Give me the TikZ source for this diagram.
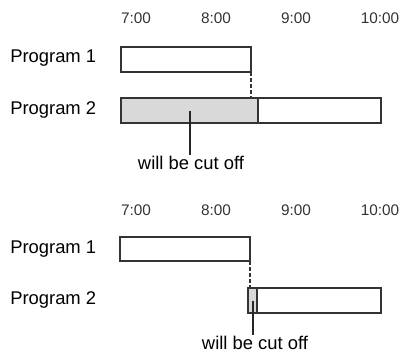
\documentclass[tikz,border=0pt]{standalone}
\usepackage{fontspec}
\setmainfont{Liberation Sans}
\usetikzlibrary{positioning}

\begin{document}
\begin{tikzpicture}[
    x=0.75pt, y=-0.75pt,
    time/.style={font=\fontsize{11.5}{13}\selectfont, text=black!80},
    prog/.style={font=\fontsize{13.8}{16}\selectfont, anchor=west, inner sep=0pt},
    bar/.style={
        rectangle, draw=black!80, line width=1.7pt, fill=white,
        outer sep=0pt, inner sep=0pt, minimum height=18.75pt
    },
    cut/.style={bar, fill=gray!30},
    note/.style={font=\fontsize{13.8}{16}\selectfont, inner sep=1pt},
    tick/.style={draw=black!80, line width=1pt, dash pattern=on 3pt off 1.5pt},
    ptr/.style={draw=black!85, line width=1.5pt},
]
\useasboundingbox (0,0) rectangle (400,354);

%% ---- UPPER CASE: program 2 starts before program 1 ends ----
\node[time] (ta7)  at (136,18) {7:00};
\node[time] (ta8)  at (216,18) {8:00};
\node[time] (ta9)  at (296,18) {9:00};
\node[time] (ta10) at (380,18) {10:00};

\node[prog] (pa1) at (10,58)  {Program 1};
\node[prog] (pa2) at (10,110) {Program 2};

\node[bar, minimum width=97.5pt, anchor=north west] (bara) at (121,47) {};
\node[cut, minimum width=102.75pt, anchor=north west] (cuta) at (121,98) {};
\node[bar, minimum width=92.25pt, right=0pt of cuta] (resta) {};

\draw[tick] (bara.south east) -- (bara.south east |- cuta.north);

\node[note] (notea) at (191,163) {will be cut off};
\draw[ptr] (cuta.center) -- (cuta.center |- notea.north);

%% ---- LOWER CASE: only the start of program 2 overlaps ----
\node[time] (tb7)  at (136,210) {7:00};
\node[time] (tb8)  at (216,210) {8:00};
\node[time] (tb9)  at (296,210) {9:00};
\node[time] (tb10) at (380,210) {10:00};

\node[prog] (pb1) at (10,249) {Program 1};
\node[prog] (pb2) at (10,300) {Program 2};

\node[bar, minimum width=97.5pt, minimum height=18pt, anchor=north west] (barb) at (120,237) {};
\node[cut, minimum width=6.75pt, anchor=north west] (cutb) at (248,288) {};
\node[bar, minimum width=93pt, right=0pt of cutb] (restb) {};

\draw[tick] (barb.south east) -- (barb.south east |- cutb.north);

\node[note] (noteb) at (255,343) {will be cut off};
\draw[ptr] (cutb.center) -- (cutb.center |- noteb.north);

\end{tikzpicture}
\end{document}
